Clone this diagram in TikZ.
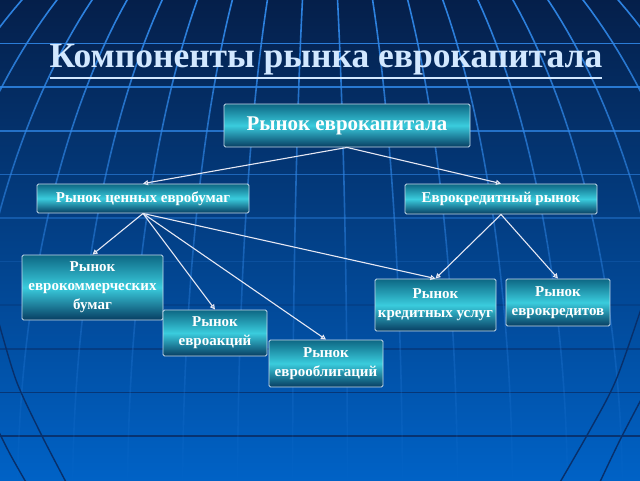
\documentclass[tikz,border=0pt]{standalone}
\usepackage{fontspec}
\setmainfont{Liberation Serif}
\usetikzlibrary{arrows.meta,fadings}
\definecolor{bgtop}{HTML}{051F4A}
\definecolor{bgmid}{HTML}{0B4795}
\definecolor{bgbot}{HTML}{0062C6}
\definecolor{boxtop}{HTML}{0D6784}
\definecolor{boxmid}{HTML}{3ACCDD}
\definecolor{boxbot}{HTML}{073D62}
\definecolor{boxline}{HTML}{C8DCEC}
\definecolor{titlecol}{HTML}{D2E8FF}
\definecolor{linkcol}{HTML}{E6E8F4}
\definecolor{gridlight}{HTML}{2F86E6}
\definecolor{griddark}{HTML}{082F6A}
\tikzfading[name=gridfade, top color=transparent!0, middle color=transparent!75, bottom color=transparent!100]
\newcommand\titleul[1]{\setbox0=\hbox{#1}\rlap{\rule[-0.32em]{\wd0}{0.075em}}\box0}
\tikzset{
  mkt/.style={draw=boxline, line width=0.9pt, rounded corners=1.5pt,
    top color=boxtop, bottom color=boxbot, middle color=boxmid,
    text=white, align=center, inner sep=0pt},
  big/.style={font=\bfseries\fontsize{20.9}{24}\selectfont},
  mid/.style={font=\bfseries\fontsize{15}{18}\selectfont},
  small/.style={font=\bfseries\fontsize{15}{19}\selectfont},
  link/.style={draw=linkcol, line width=1.1pt, -{Triangle[open,length=5pt,width=5pt]}},
  gridline/.style={draw=gridlight, line width=1.6pt},
  darkline/.style={draw=griddark, line width=1.4pt}
}
\begin{document}
\begin{tikzpicture}[x=1pt,y=-1pt]
\useasboundingbox (0,0) rectangle (640,480);
% background
\shade[top color=bgtop, middle color=bgmid, bottom color=bgbot] (0,0) rectangle (640,480);
\begin{scope}
\clip (0,0) rectangle (640,480);
% horizontal grid lines
\foreach \i/\c/\o in {1/gridlight/0.9,2/gridlight/0.85,3/gridlight/0.75,4/gridlight/0.6,5/gridlight/0.4,6/gridlight/0.2,7/griddark/0.3,8/griddark/0.55,9/griddark/0.8,10/griddark/0.9}
  \draw[draw=\c, line width=1.5pt, opacity=\o] (0,{43.6*\i}) -- (640,{43.6*\i});
% meridians
\foreach \k in {-9.5,-8.5,...,9.5}
  \draw[gridline, path fading=gridfade] plot[domain=38.5:89, samples=40, variable=\t]
    ({320+\k*55*sin(\t)},{500-650*cos(\t)});
% dark arcs at the bottom
\draw[darkline] plot[smooth] coordinates {(-3,316) (16,380) (40,432) (67,484)};
\draw[darkline] plot[smooth] coordinates {(-3,428) (10,454) (27,484)};
\draw[darkline] plot[smooth] coordinates {(643,303) (616,380) (590,430) (559,484)};
\draw[darkline] plot[smooth] coordinates {(643,396) (620,440) (599,484)};
\end{scope}
% title
\node[text=titlecol, font=\bfseries\fontsize{35.5}{40}\selectfont] (title) at (326,62) {\titleul{Компоненты рынка еврокапитала}};
% boxes
\node[mkt, big, minimum width=246, minimum height=43] (top) at (347,125.5) {Рынок еврокапитала};
\node[mkt, mid, minimum width=212, minimum height=29] (vb) at (143,198.5) {Рынок ценных евробумаг};
\node[mkt, mid, minimum width=192, minimum height=30] (ek) at (501,199) {Еврокредитный рынок};
\node[mkt, small, minimum width=141, minimum height=65] (kom) at (92.5,287.5) {Рынок\\еврокоммерческих\\бумаг};
\node[mkt, small, minimum width=104, minimum height=46] (akc) at (215,333) {Рынок\\евроакций};
\node[mkt, small, minimum width=114, minimum height=47] (obl) at (326,363.5) {Рынок\\еврооблигаций};
\node[mkt, small, minimum width=121, minimum height=52] (kus) at (435.5,305) {Рынок\\кредитных услуг};
\node[mkt, small, minimum width=104, minimum height=47] (kred) at (558,302.5) {Рынок\\еврокредитов};
% connectors
\draw[link] (top.south) -- (vb.north);
\draw[link] (top.south) -- (ek.north);
\draw[link] (vb.south) -- (kom.north);
\draw[link] (vb.south) -- (akc.north);
\draw[link] (vb.south) -- (obl.north);
\draw[link] (vb.south) -- (kus.north);
\draw[link] (ek.south) -- (kus.north);
\draw[link] (ek.south) -- (kred.north);
\end{tikzpicture}
\end{document}
